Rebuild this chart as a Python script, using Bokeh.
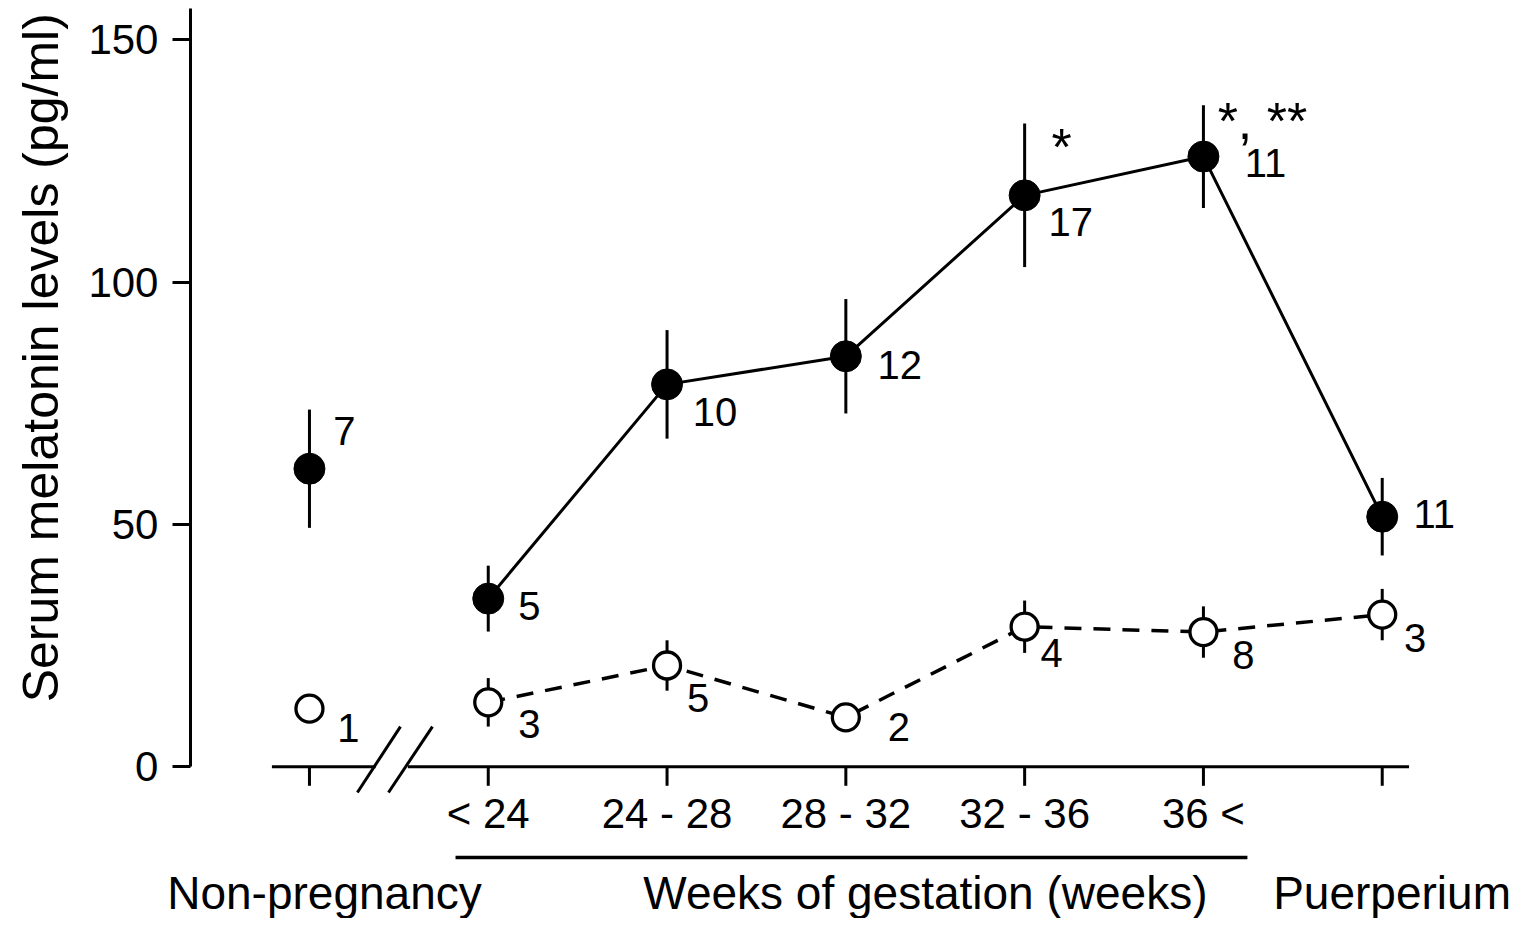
import numpy as np
from bokeh.plotting import figure
from bokeh.models import Range1d, FixedTicker
from bokeh.core.properties import value
from bokeh.embed import file_html
from bokeh.resources import INLINE

# ---------------- data ----------------
groups = ["Non-pregnancy", "< 24", "24 - 28", "28 - 32", "32 - 36", "36 <", "Puerperium"]
tick_labels = ["", "< 24", "24 - 28", "28 - 32", "32 - 36", "36 <", ""]
filled_mean = [61.5, 34.7, 78.9, 84.7, 117.9, 125.9, 51.6]
filled_sem = [12.2, 6.8, 11.2, 11.8, 14.8, 10.6, 8.0]
filled_n = ["7", "5", "10", "12", "17", "11", "11"]
open_mean = [12.0, 13.3, 20.9, 10.2, 28.9, 27.8, 31.4]
open_sem = [0.0, 5.0, 5.2, 0.0, 5.4, 5.3, 5.3]
open_n = ["1", "3", "5", "2", "4", "8", "3"]
sig_marks = ["", "", "", "", "*", "*, **", ""]
y_ticks = [0, 50, 100, 150]
group_titles = ["Non-pregnancy", "Weeks of gestation (weeks)", "Puerperium"]
y_title = "Serum melatonin levels (pg/ml)"

# ---------------- layout / style ----------------
FONT = "Liberation Sans"
BLACK = "#000000"
Y_TOP = 156.4
AXIS_X = -0.6655
xs = np.arange(len(groups), dtype=float)

p = figure(width=1516, height=918, output_backend="svg", toolbar_location=None,
           x_range=Range1d(-1.728, 6.751), y_range=Range1d(-31.3, 158.1),
           x_axis_location=None, y_axis_location="left", min_border=0)
p.grid.visible = False
p.outline_line_color = None
p.background_fill_color = "white"
p.border_fill_color = "white"

ya = p.yaxis[0]
ya.fixed_location = AXIS_X
ya.ticker = FixedTicker(ticks=y_ticks)
ya.bounds = (0, Y_TOP)
ya.axis_line_width = 3
ya.axis_line_color = BLACK
ya.major_tick_line_width = 3
ya.major_tick_line_color = BLACK
ya.major_tick_out = 18
ya.major_tick_in = 0
ya.minor_tick_line_color = None
ya.major_label_text_font_size = "42px"
ya.major_label_text_font = FONT
ya.major_label_text_color = BLACK
ya.major_label_standoff = 14

# y title
p.text(x=[AXIS_X - 0.838], y=[84.4], text=[y_title], angle=np.pi / 2,
       text_align="center", text_baseline="middle",
       text_font=value(FONT), text_font_size="50px", text_color=BLACK)

# x baseline with axis break
p.segment(x0=[xs[0] - 0.21, xs[1] - 0.45], y0=[0, 0],
          x1=[xs[0] + 0.37, xs[-1] + 0.15], y1=[0, 0],
          line_width=3, line_color=BLACK)
p.segment(x0=[0.268, 0.442], y0=[-5.3, -5.3], x1=[0.509, 0.688], y1=[8.3, 8.3],
          line_width=3, line_color=BLACK)
# x ticks (downward)
p.ray(x=xs, y=np.zeros_like(xs), length=19, length_units="screen",
      angle=-np.pi / 2, line_width=3, line_color=BLACK)
# x tick labels
p.text(x=xs, y=np.zeros_like(xs), text=tick_labels, y_offset=47,
       text_align="center", text_baseline="middle",
       text_font=value(FONT), text_font_size="42px", text_color=BLACK)
# rule under gestation labels
p.segment(x0=[xs[1] - 0.183], y0=[-18.7], x1=[xs[5] + 0.246], y1=[-18.7],
          line_width=3.5, line_color=BLACK)
# group titles
p.text(x=[xs[0] + 0.084, xs[3] + 0.445, xs[6] + 0.055], y=[0, 0, 0],
       text=group_titles, y_offset=126,
       text_align="center", text_baseline="middle",
       text_font=value(FONT), text_font_size="46px", text_color=BLACK)

# filled series
f_lo = np.array(filled_mean) - np.array(filled_sem)
f_hi = np.array(filled_mean) + np.array(filled_sem)
p.segment(x0=xs, y0=f_lo, x1=xs, y1=f_hi, line_width=3, line_color=BLACK)
p.line(xs[1:], filled_mean[1:], line_width=3, line_color=BLACK)
p.scatter(xs, filled_mean, size=31, fill_color=BLACK, line_color=BLACK, line_width=1)

# open series
o_lo = np.array(open_mean) - np.array(open_sem)
o_hi = np.array(open_mean) + np.array(open_sem)
p.segment(x0=xs, y0=o_lo, x1=xs, y1=o_hi, line_width=3, line_color=BLACK)
p.line(xs[1:], open_mean[1:], line_width=3.5, line_color=BLACK, line_dash="17 12")
p.scatter(xs, open_mean, size=27, fill_color="white", line_color=BLACK, line_width=3.3)

# n labels
f_dx = [35, 41, 48, 54, 46, 62, 52]
f_dy = [-38, 7, 28, 9, 27, 6, -3]
o_dx = [39, 41, 31, 53, 27, 40, 33]
o_dy = [19, 22, 33, 10, 26, 23, 23]
p.text(x=xs, y=filled_mean, text=filled_n, x_offset=f_dx, y_offset=f_dy,
       text_align="center", text_baseline="middle",
       text_font=value(FONT), text_font_size="40px", text_color=BLACK)
p.text(x=xs, y=open_mean, text=open_n, x_offset=o_dx, y_offset=o_dy,
       text_align="center", text_baseline="middle",
       text_font=value(FONT), text_font_size="40px", text_color=BLACK)
# significance marks
s_dx = [0, 0, 0, 0, 37, 59, 0]
s_dy = [0, 0, 0, 0, -48, -36, 0]
p.text(x=xs, y=filled_mean, text=sig_marks, x_offset=s_dx, y_offset=s_dy,
       text_align="center", text_baseline="middle",
       text_font=value(FONT), text_font_size="52px", text_color=BLACK)

open("out.html", "w").write(file_html(p, INLINE))
